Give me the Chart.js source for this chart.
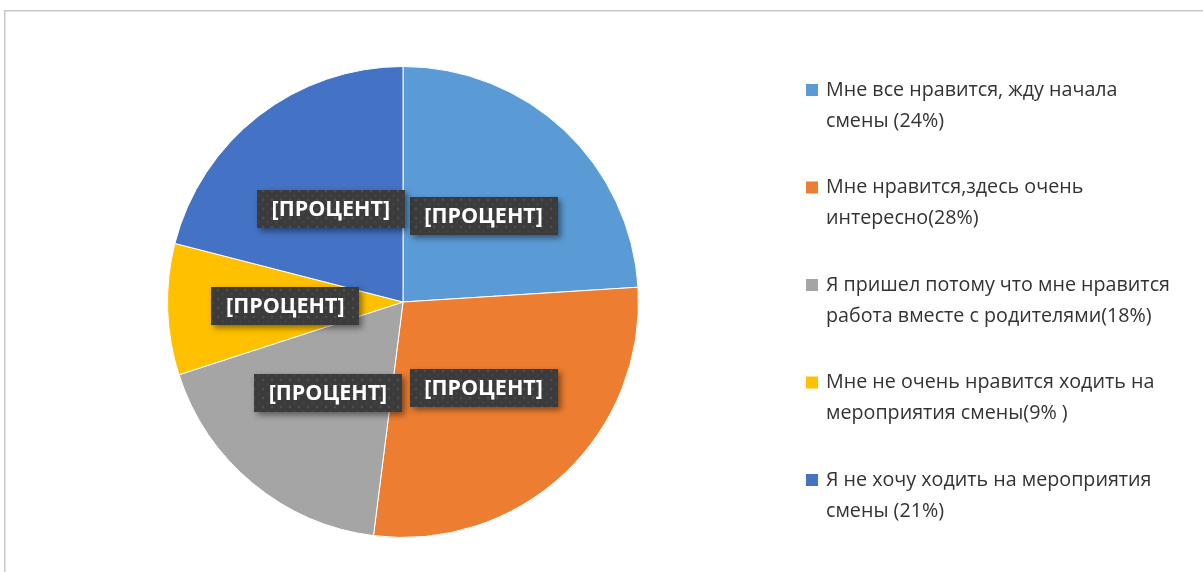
<!DOCTYPE html>
<html>
<head>
<meta charset="utf-8">
<script src="https://cdn.jsdelivr.net/npm/chart.js@4.4.1/dist/chart.umd.min.js"></script>
<style>
  html, body { margin: 0; padding: 0; background: #ffffff; }
  #wrap { position: relative; width: 1203px; height: 572px; }
  canvas { display: block; }
</style>
</head>
<body>
<div id="wrap"><canvas id="c" width="1203" height="572"></canvas></div>
<script>
// ---- data ----
const categories = [
  ["Мне все нравится, жду начала", "смены (24%)"],
  ["Мне нравится,здесь очень", "интересно(28%)"],
  ["Я пришел потому что мне нравится", "работа вместе с родителями(18%)"],
  ["Мне не очень нравится ходить на", "мероприятия смены(9% )"],
  ["Я не хочу ходить на мероприятия", "смены (21%)"]
];
const values = [24, 28, 18, 9, 21];
const dataLabels = ["[ПРОЦЕНТ]", "[ПРОЦЕНТ]", "[ПРОЦЕНТ]", "[ПРОЦЕНТ]", "[ПРОЦЕНТ]"];
const colors = ["#5B9BD5", "#ED7D31", "#A5A5A5", "#FFC000", "#4472C4"];

// ---- plugins ----
const frame = {
  id: 'frame',
  beforeDraw(chart) {
    const ctx = chart.ctx;
    ctx.save();
    ctx.fillStyle = '#ffffff';
    ctx.fillRect(0, 0, chart.width, chart.height);
    ctx.strokeStyle = '#c8c8c8';
    ctx.lineWidth = 1.5;
    ctx.beginPath();
    ctx.moveTo(4.75, chart.height + 5);
    ctx.lineTo(4.75, 10.75);
    ctx.lineTo(chart.width + 5, 10.75);
    ctx.stroke();
    ctx.restore();
  }
};

function makePattern(ctx) {
  const p = document.createElement('canvas');
  p.width = 9; p.height = 9;
  const g = p.getContext('2d');
  g.fillStyle = '#3b3b3b';
  g.fillRect(0, 0, 9, 9);
  g.fillStyle = '#4c4c4c';
  g.beginPath(); g.arc(2, 2, 1.4, 0, Math.PI * 2); g.fill();
  g.fillStyle = '#454545';
  g.beginPath(); g.arc(6.5, 6.5, 1.2, 0, Math.PI * 2); g.fill();
  return ctx.createPattern(p, 'repeat');
}

const boxLabels = {
  id: 'boxLabels',
  afterDatasetsDraw(chart) {
    const ctx = chart.ctx;
    const meta = chart.getDatasetMeta(0);
    const pat = makePattern(ctx);
    ctx.save();
    ctx.font = 'bold 21.5px "Open Sans", "Noto Sans", sans-serif';
    meta.data.forEach((arc, i) => {
      const pos = arc.tooltipPosition();
      const txt = dataLabels[i];
      const w = 148, h = 38;
      const x = Math.round(pos.x - w / 2), y = Math.round(pos.y - h / 2);
      ctx.save();
      ctx.shadowColor = 'rgba(0,0,0,0.45)';
      ctx.shadowBlur = 6;
      ctx.shadowOffsetX = 3;
      ctx.shadowOffsetY = 3;
      ctx.fillStyle = '#3b3b3b';
      ctx.fillRect(x, y, w, h);
      ctx.restore();
      ctx.fillStyle = pat;
      ctx.fillRect(x, y, w, h);
      ctx.fillStyle = '#ffffff';
      ctx.textAlign = 'center';
      ctx.textBaseline = 'middle';
      ctx.fillText(txt, pos.x, pos.y + 1);
    });
    ctx.restore();
  }
};

const sideLegend = {
  id: 'sideLegend',
  afterDraw(chart) {
    const ctx = chart.ctx;
    const labels = chart.data.labels;
    const bg = chart.data.datasets[0].backgroundColor;
    ctx.save();
    ctx.font = '19.7px "Open Sans", "Noto Sans", sans-serif';
    ctx.textBaseline = 'middle';
    ctx.textAlign = 'left';
    const x0 = 806, tx = 826, y0 = 90, step = 97.5, lh = 31;
    labels.forEach((lab, i) => {
      const y = y0 + i * step;
      ctx.fillStyle = bg[i];
      ctx.fillRect(x0, y - 6, 12, 12);
      ctx.fillStyle = '#333333';
      const lines = Array.isArray(lab) ? lab : [lab];
      lines.forEach((ln, k) => ctx.fillText(ln, tx, y + k * lh));
    });
    ctx.restore();
  }
};

new Chart(document.getElementById('c'), {
  type: 'pie',
  data: {
    labels: categories,
    datasets: [{
      data: values,
      backgroundColor: colors,
      borderColor: '#ffffff',
      borderWidth: 1
    }]
  },
  options: {
    responsive: false,
    animation: false,
    layout: { padding: { left: 167, right: 564, top: 66, bottom: 34 } },
    plugins: {
      legend: { display: false },
      tooltip: { enabled: false }
    }
  },
  plugins: [frame, boxLabels, sideLegend]
});
</script>
</body>
</html>
